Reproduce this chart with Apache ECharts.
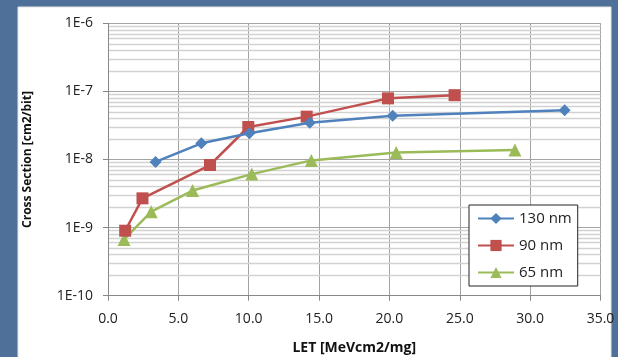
<!DOCTYPE html>
<html>
<head>
<meta charset="utf-8">
<script src="https://cdn.jsdelivr.net/npm/echarts@6/dist/echarts.min.js"></script>
<style>
html,body{margin:0;padding:0;background:#4f7099;}
#c{width:618px;height:357px;}
</style>
</head>
<body>
<div id="c"></div>
<script>
// Data
const seriesNames = ['130 nm', '90 nm', '65 nm'];
const let130 = [3.38, 6.63, 10.05, 14.34, 20.23, 32.45];
const cs130 = [9.2e-9, 1.73e-8, 2.43e-8, 3.47e-8, 4.40e-8, 5.27e-8];
const let90 = [1.22, 2.45, 7.25, 9.97, 14.12, 19.9, 24.63];
const cs90 = [9.0e-10, 2.69e-9, 8.3e-9, 3.0e-8, 4.26e-8, 7.9e-8, 8.8e-8];
const let65 = [1.14, 3.07, 6.01, 10.22, 14.45, 20.48, 28.92];
const cs65 = [6.7e-10, 1.71e-9, 3.5e-9, 6.1e-9, 9.7e-9, 1.27e-8, 1.38e-8];
const xTicks = [0, 5, 10, 15, 20, 25, 30, 35];
const yTickLabels = ['1E-10', '1E-9', '1E-8', '1E-7', '1E-6'];
// minor grid values (2..9 x each decade)
const minorValues = [];
for (let e = -10; e < -6; e++) {
  for (let m = 2; m <= 9; m++) minorValues.push(m * Math.pow(10, e));
}

const zip = (xs, ys) => xs.map((x, i) => [x, ys[i]]);
const font = '"Open Sans", Lato, sans-serif';

const chart = echarts.init(document.getElementById('c'), null, {renderer: 'canvas'});
chart.setOption({
  backgroundColor: '#4f7099',
  animation: false,
  graphic: [{
    type: 'rect', z: -10, silent: true,
    shape: {x: 18, y: 7, width: 593, height: 400},
    style: {fill: '#ffffff', stroke: '#e4e4e4', lineWidth: 1}
  }],
  grid: {left: 108, right: 17.5, top: 23.3, bottom: 61.3, containLabel: false, outerBoundsMode: 'none'},
  xAxis: {
    type: 'value', min: 0, max: 35, interval: 5,
    name: 'LET [MeVcm2/mg]', nameLocation: 'middle', nameGap: 45,
    nameTextStyle: {fontFamily: font, fontWeight: 'bold', fontSize: 14, color: '#111'},
    axisLine: {lineStyle: {color: '#888', width: 1}},
    axisTick: {show: true, length: 5, lineStyle: {color: '#888'}},
    axisLabel: {fontFamily: font, fontSize: 14, color: '#222', margin: 16,
      formatter: v => xTicks.indexOf(v) >= 0 ? v.toFixed(1) : ''},
    splitLine: {show: true, lineStyle: {color: '#a3a3a3', width: 1}}
  },
  yAxis: {
    type: 'log', logBase: 10, min: 1e-10, max: 1e-6,
    name: 'Cross Section [cm2/bit]', nameLocation: 'middle', nameGap: 74,
    nameTextStyle: {fontFamily: font, fontWeight: 'bold', fontSize: 12, color: '#111'},
    axisLine: {show: true, lineStyle: {color: '#888', width: 1}},
    axisTick: {show: true, length: 5, inside: false, lineStyle: {color: '#888'}},
    axisLabel: {fontFamily: font, fontSize: 14, color: '#222', margin: 15,
      formatter: v => {
        const e = Math.round(Math.log10(v));
        return yTickLabels.indexOf('1E' + e) >= 0 ? '1E' + e : '';
      }},
    splitLine: {show: true, lineStyle: {color: '#a3a3a3', width: 1}}
  },
  legend: {
    data: seriesNames,
    orient: 'vertical', left: 469, top: 205,
    backgroundColor: '#ffffff',
    borderColor: '#222', borderWidth: 1,
    padding: [6, 6, 6, 8],
    itemWidth: 36, itemHeight: 14, itemGap: 12,
    textStyle: {fontFamily: font, fontSize: 15, color: '#222'}
  },
  series: [
    {
      name: 'grid-minor', type: 'lines', coordinateSystem: 'cartesian2d',
      silent: true, z: 0,
      lineStyle: {color: '#d2d2d2', width: 1.4, opacity: 1},
      data: minorValues.map(v => ({coords: [[0, v], [35, v]]}))
    },
    {
      name: seriesNames[0], type: 'line', data: zip(let130, cs130), z: 5,
      symbol: 'diamond', symbolSize: 12,
      lineStyle: {color: '#4f81bd', width: 2.5},
      itemStyle: {color: '#4f81bd'}
    },
    {
      name: seriesNames[1], type: 'line', data: zip(let90, cs90), z: 4,
      symbol: 'rect', symbolSize: 12,
      lineStyle: {color: '#c0504d', width: 2.5},
      itemStyle: {color: '#c0504d'}
    },
    {
      name: seriesNames[2], type: 'line', data: zip(let65, cs65), z: 3,
      symbol: 'triangle', symbolSize: 13,
      lineStyle: {color: '#9bbb59', width: 2.5},
      itemStyle: {color: '#9bbb59'}
    }
  ]
});
</script>
</body>
</html>
